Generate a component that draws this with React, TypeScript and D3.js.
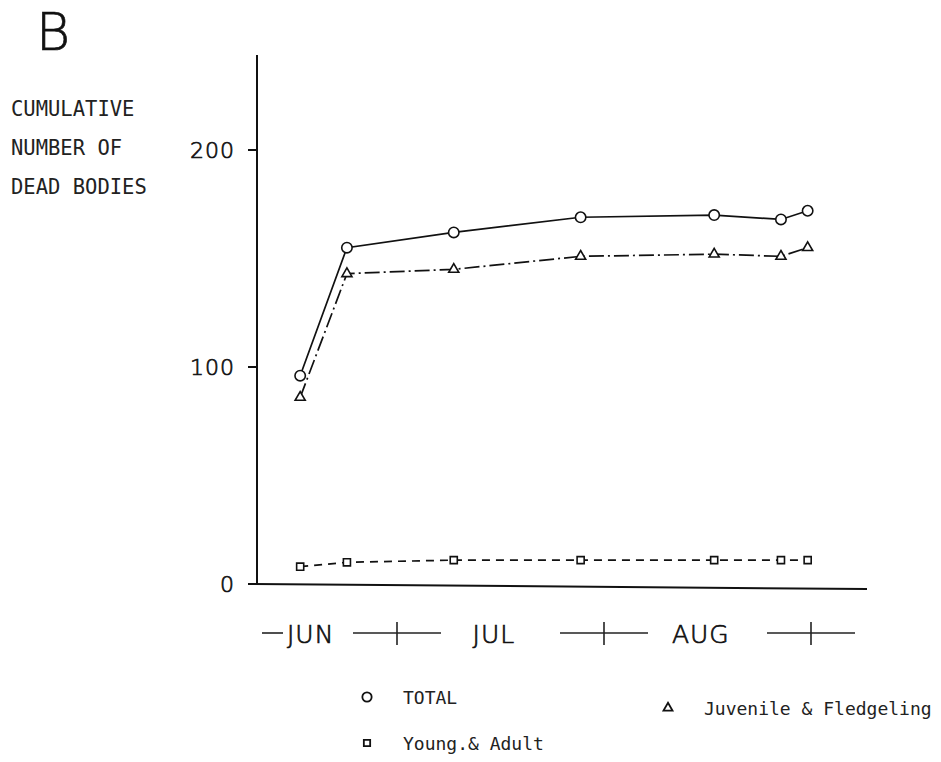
import React, { useEffect, useRef } from 'react';
import * as d3 from 'd3';

// sampling days (plotted at midday) and cumulative counts
const sampleDays = ["Jun 16", "Jun 23", "Jul 9", "Jul 28", "Aug 17", "Aug 27", "Aug 31"];
const totalCounts = [96, 155, 162, 169, 170, 168, 172];
const juvenileCounts = [86, 143, 145, 151, 152, 151, 155];
const youngAdultCounts = [8, 10, 11, 11, 11, 11, 11];

const yTicks = [0, 100, 200];
const monthNames = ["JUN", "JUL", "AUG"];
const yTitle = ["CUMULATIVE", "NUMBER OF", "DEAD BODIES"];
const panelLetter = "B";

const parseDay = d3.timeParse("%b %d");

export default function App() {
    const ref = useRef<SVGSVGElement>(null);

    useEffect(() => {
        const width = 941, height = 762;
        const axisX = 257, axisTop = 55;
        const thin = "'DejaVu Sans', sans-serif";
        const mono = "'DejaVu Sans Mono', monospace";

        const days = sampleDays.map(s => d3.timeHour.offset(parseDay(s)!, 12));
        const jul1 = new Date(1900, 6, 1), sep1 = new Date(1900, 8, 1);

        // x: time scale, month boundaries are the "+" marks under the axis
        const x = d3.scaleTime().domain([jul1, sep1]).range([397, 811]);
        const y = d3.scaleLinear().domain([0, 200]).range([584, 150]);

        const series = [
            { name: "TOTAL", values: totalCounts, symbol: d3.symbolCircle, dash: null as string | null },
            { name: "Juvenile & Fledgeling", values: juvenileCounts, symbol: d3.symbolTriangle, dash: "15,4,2,4" },
            { name: "Young.& Adult", values: youngAdultCounts, symbol: d3.symbolSquare, dash: "8,6" },
        ];

        const svg = d3.select(ref.current!);
        svg.selectAll("*").remove();
        svg.attr("width", width).attr("height", height);
        svg.append("rect").attr("width", width).attr("height", height).attr("fill", "#fff");

        // thin lettering-guide text, thickened a bit with a stroke
        const lettering = (sel: any, size: number) => sel
            .attr("font-family", thin).attr("font-weight", 200).attr("font-size", size)
            .attr("fill", "#111").attr("stroke", "#111").attr("stroke-width", 0.7);

        // panel letter
        svg.append("text")
            .attr("x", 36).attr("y", 50)
            .call(lettering, 52)
            .text(panelLetter);

        // y title
        svg.append("g")
            .attr("font-family", mono).attr("font-size", 20.5).attr("fill", "#222")
            .selectAll("text").data(yTitle).enter().append("text")
            .attr("x", 11).attr("y", (d, i) => 116 + i * 39)
            .text(d => d);

        // axes
        svg.append("line")
            .attr("x1", axisX).attr("x2", axisX).attr("y1", axisTop).attr("y2", y(0) + 1)
            .attr("stroke", "#111").attr("stroke-width", 2);
        svg.append("line")
            .attr("x1", axisX - 9).attr("x2", 867).attr("y1", y(0)).attr("y2", y(0) + 5)
            .attr("stroke", "#111").attr("stroke-width", 2);

        const yt = svg.append("g").selectAll("g").data(yTicks).enter().append("g")
            .attr("transform", d => `translate(0,${y(d)})`);
        yt.append("line").attr("x1", axisX - 9).attr("x2", axisX)
            .attr("stroke", "#111").attr("stroke-width", 2);
        yt.append("text")
            .attr("x", 235).attr("y", 8).attr("text-anchor", "end")
            .call(lettering, 22)
            .attr("letter-spacing", 1)
            .text(d => d);

        // month scale under the axis: —JUN —+— JUL —+— AUG —+—
        const labelY = 633;
        const bounds = d3.timeMonth.range(jul1, d3.timeDay.offset(sep1, 1));
        const mg = svg.append("g").attr("stroke", "#222").attr("stroke-width", 1.6);
        bounds.forEach(b => {
            mg.append("line").attr("x1", x(b) - 44).attr("x2", x(b) + 44)
                .attr("y1", labelY).attr("y2", labelY);
            mg.append("line").attr("x1", x(b)).attr("x2", x(b))
                .attr("y1", labelY - 11).attr("y2", labelY + 12);
        });
        mg.append("line").attr("x1", axisX + 5).attr("x2", axisX + 26)
            .attr("y1", labelY).attr("y2", labelY);

        const monthStarts = [new Date(1900, 5, 1), jul1, new Date(1900, 7, 1)];
        svg.append("g")
            .call(lettering, 25)
            .attr("letter-spacing", 1)
            .selectAll("text").data(monthNames).enter().append("text")
            .attr("x", (d, i) => i === 0 ? axisX + 30 : x(d3.timeHour.offset(d3.timeDay.offset(monthStarts[i], 14), 12)))
            .attr("y", labelY + 10)
            .attr("text-anchor", (d, i) => i === 0 ? "start" : "middle")
            .text(d => d);

        // lines
        const line = d3.line<number>()
            .x((d, i) => x(days[i]))
            .y(d => y(d));

        series.forEach(s => {
            svg.append("path")
                .attr("d", line(s.values))
                .attr("fill", "none")
                .attr("stroke", "#111")
                .attr("stroke-width", 1.7)
                .attr("stroke-dasharray", s.dash);
        });

        const symSize = (sym: d3.SymbolType) =>
            sym === d3.symbolCircle ? 85 : sym === d3.symbolTriangle ? 44 : 50;

        series.forEach(s => {
            svg.append("g").selectAll("path").data(s.values).enter().append("path")
                .attr("transform", (d, i) => `translate(${x(days[i])},${y(d)})`)
                .attr("d", d3.symbol(s.symbol, symSize(s.symbol)))
                .attr("fill", "#fff")
                .attr("stroke", "#111")
                .attr("stroke-width", 1.6);
        });

        // legend
        const legendPos = [[367, 697], [668, 708], [367, 743]];
        const lg = svg.append("g").selectAll("g").data(series).enter().append("g")
            .attr("transform", (d, i) => `translate(${legendPos[i][0]},${legendPos[i][1]})`);
        lg.append("path")
            .attr("d", d => d3.symbol(d.symbol, symSize(d.symbol) * 0.8)())
            .attr("fill", "#fff").attr("stroke", "#111").attr("stroke-width", 1.8);
        lg.append("text")
            .attr("x", 36).attr("y", 7)
            .attr("font-family", mono).attr("font-size", 18).attr("fill", "#222")
            .text(d => d.name);
    }, []);

    return (
        <svg ref={ref} style={{ position: "absolute", left: 0, top: 0, display: "block" }} />
    );
}
